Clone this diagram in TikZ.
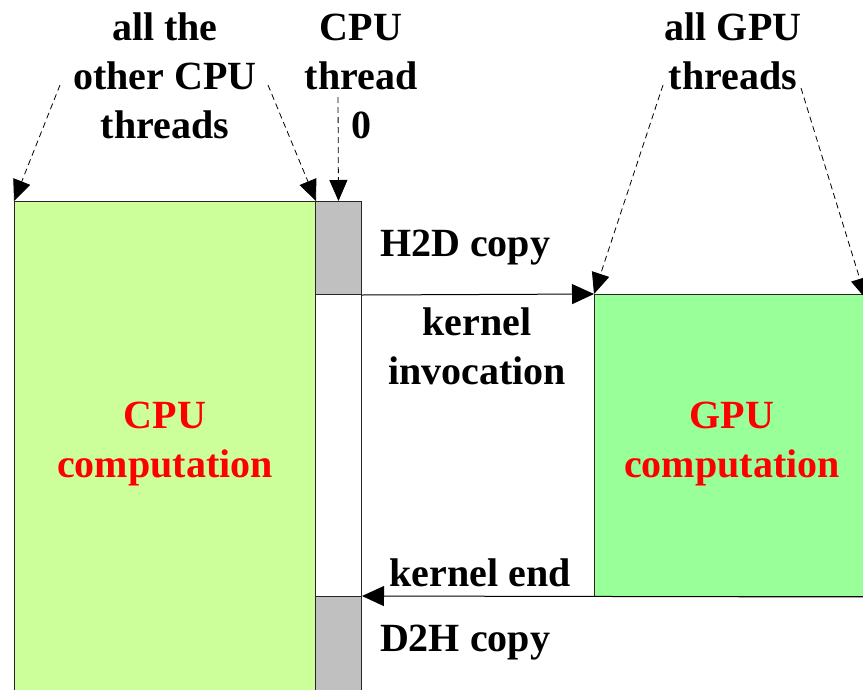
\documentclass[tikz,border=0pt]{standalone}
\usepackage{fontspec}
\setmainfont{Liberation Serif}
\usetikzlibrary{arrows.meta}
\definecolor{cpugreen}{HTML}{CCFF99}
\definecolor{gpugreen}{HTML}{99FF99}
\definecolor{tgray}{HTML}{C0C0C0}
\begin{document}
\begin{tikzpicture}[x=1pt,y=-1pt,
  box/.style={draw=black!85,line width=1pt,rectangle,inner sep=0pt,anchor=north west},
  lbl/.style={font=\bfseries\fontsize{40}{49}\selectfont,align=center,inner sep=0pt},
  dasharrow/.style={dashed,dash pattern=on 6pt off 4pt,line width=0.8pt,-{Triangle[length=21pt,width=18pt]}},
  solarrow/.style={line width=1pt,-{Triangle[length=22pt,width=20pt]}}]
\useasboundingbox (0,0) rectangle (863,689);
\node[box,fill=cpugreen,minimum width=301pt,minimum height=492pt] (cpu) at (14,201) {};
\node[box,fill=white,minimum width=46pt,minimum height=302pt] (t0) at (315,294) {};
\node[box,fill=tgray,minimum width=46pt,minimum height=93pt] (gtop) at (315,201) {};
\node[box,fill=tgray,minimum width=46pt,minimum height=97pt] (gbot) at (315,596) {};
\node[box,fill=gpugreen,minimum width=275pt,minimum height=302pt] (gpu) at (594,294) {};
% labels
\node[lbl] (lother) at (165,76) {all the\\other CPU\\threads};
\node[lbl] (lt0) at (361,76) {CPU\\thread\\0};
\node[lbl] (lgpu) at (733,51.5) {all GPU\\threads};
\node[lbl] (lh2d) at (465,248) {H2D copy};
\node[lbl] (lkinv) at (477,346.5) {kernel\\invocation};
\node[lbl,text=red] (lcpu) at (165,444) {CPU\\computation};
\node[lbl,text=red] (lgpuc) at (732,444) {GPU\\computation};
\node[lbl] (lkend) at (480,573) {kernel end};
\node[lbl] (ld2h) at (465,643) {D2H copy};
% solid arrows
\draw[solarrow] (gtop.south east) -- (gpu.north west);
\draw[solarrow] (gpu.south east) -- (gbot.north east);
% dashed arrows
\coordinate (s1) at (60,85);
\coordinate (s2) at (268,85);
\coordinate (s3) at (338,97);
\coordinate (s4) at (663,85);
\coordinate (s5) at (801,88);
\coordinate (e5) at (866,299);
\draw[dasharrow] (s1) -- (cpu.north west);
\draw[dasharrow] (s2) -- (cpu.north east);
\draw[dasharrow] (s3) -- (gtop.north);
\draw[dasharrow] (s4) -- (gpu.north west);
\draw[dasharrow] (s5) -- (e5);
\end{tikzpicture}
\end{document}
